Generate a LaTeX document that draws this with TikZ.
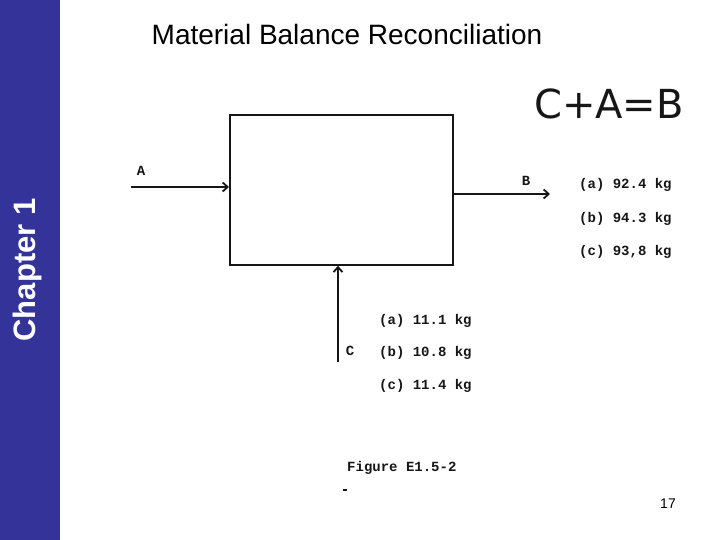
\documentclass[tikz,border=0pt]{standalone}
\usepackage{fontspec}
\setmainfont{Liberation Sans}
\newfontfamily\scanfont{Liberation Mono}
\newfontfamily\handfont{DejaVu Sans}
\usepackage{tikz}
\usetikzlibrary{arrows.meta}
\definecolor{ChapterBlue}{RGB}{51,51,153}
\definecolor{ScanInk}{RGB}{22,22,22}
\tikzset{
  scantext/.style={ScanInk,font=\scanfont\bfseries\fontsize{14}{16}\selectfont,inner sep=0pt},
  flow/.style={->,ScanInk,line width=1.8pt}
}

\begin{document}
\begin{tikzpicture}[x=1pt,y=-1pt,>={Straight Barb[length=5pt,width=9pt]}]
  \useasboundingbox (0,0) rectangle (720,540);
  \fill[ChapterBlue] (0,0) rectangle (60,540);
  \node[rotate=90,white,anchor=base,font=\bfseries\fontsize{31}{34}\selectfont] (chap) at (35,270) {Chapter 1};
  \node[font=\fontsize{28}{32}\selectfont] (title) at (347,34) {Material Balance Reconciliation};
  \node[ScanInk,font=\handfont\fontsize{40}{44}\selectfont] (balance) at (609,104) {C+A=B};
  \node[draw=ScanInk,line width=1.8pt,minimum width=223pt,minimum height=150pt,anchor=north west] (unit) at (229,114) {};
  \coordinate (Ain) at (131,187);
  \coordinate (Bout) at (550,194);
  \coordinate (Cin) at (338,362);
  \draw[flow] (Ain) -- (Ain -| unit.west);
  \draw[flow] (unit.east |- Bout) -- (Bout);
  \draw[flow] (Cin) -- (Cin |- unit.south);
  \node[scantext] (labA) at (141,171) {A};
  \node[scantext] (labB) at (526,181) {B};
  \node[scantext] (labC) at (350,351) {C};
  \node[scantext,anchor=west] (Ba) at (579,185) {(a) 92.4 kg};
  \node[scantext,anchor=west] (Bb) at (579,219) {(b) 94.3 kg};
  \node[scantext,anchor=west] (Bc) at (579,252) {(c) 93,8 kg};
  \node[scantext,anchor=west] (Ca) at (379,321) {(a) 11.1 kg};
  \node[scantext,anchor=west] (Cb) at (379,353) {(b) 10.8 kg};
  \node[scantext,anchor=west] (Cc) at (379,386) {(c) 11.4 kg};
  \node[scantext,anchor=west] (fig) at (347,468) {Figure E1.5-2};
  \draw[ScanInk,line width=1.2pt] (343,490) -- (347,490);
  \node[font=\fontsize{14}{16}\selectfont] (page) at (668,504) {17};
\end{tikzpicture}
\end{document}
